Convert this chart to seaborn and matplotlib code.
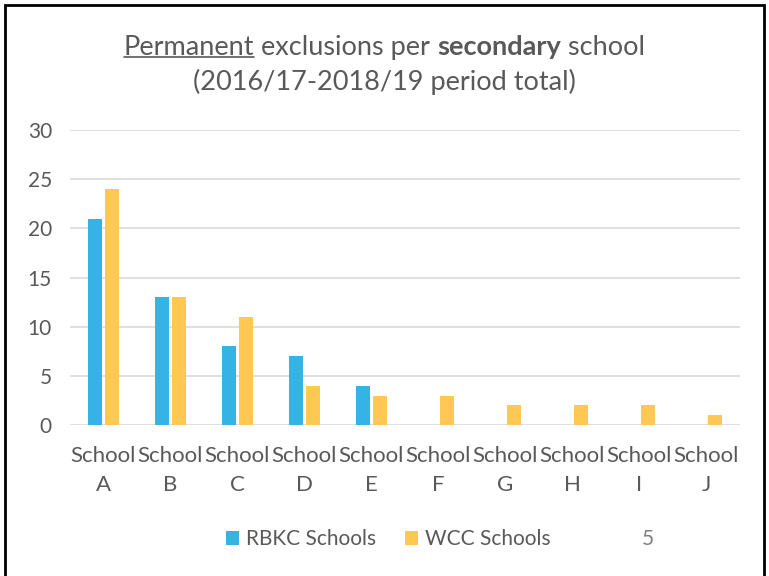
import pandas as pd
import seaborn as sns
import matplotlib.pyplot as plt
from matplotlib.patches import Rectangle

schools = ['A', 'B', 'C', 'D', 'E', 'F', 'G', 'H', 'I', 'J']
rbkc = [21, 13, 8, 7, 4, 0, 0, 0, 0, 0]
wcc = [24, 13, 11, 4, 3, 3, 2, 2, 2, 1]
series = ['RBKC Schools', 'WCC Schools']
colours = ['#35B3E4', '#FFC852']
grey = '#595959'

df = pd.DataFrame({
    'school': ['School\n' + s for s in schools] * 2,
    'value': rbkc + wcc,
    'group': [series[0]] * len(schools) + [series[1]] * len(schools),
})

sns.set_style('white')
plt.rcParams['font.family'] = ['Lato', 'DejaVu Sans']

fig = plt.figure(figsize=(7.69, 5.76), dpi=100)
ax = fig.add_axes([0.091, 0.262, 0.871, 0.512])

sns.barplot(data=df, x='school', y='value', hue='group', palette=colours,
            width=0.52, gap=0.2, saturation=1, linewidth=0, ax=ax, legend=True)

ax.set_ylim(0, 30)
ax.set_yticks(range(0, 31, 5))
ax.set_xlim(-0.5, 9.5)
ax.grid(axis='y', color='#D9D9D9', linewidth=1.2)
ax.set_axisbelow(True)
for s in ax.spines.values():
    s.set_visible(False)
ax.tick_params(axis='y', length=0, labelsize=15, colors=grey, pad=13)
ax.tick_params(axis='x', length=0, labelsize=16, colors=grey, pad=15)
for lbl in ax.get_xticklabels():
    lbl.set_linespacing(1.55)
ax.set_xlabel('')
ax.set_ylabel('')

handles, labels = ax.get_legend_handles_labels()
ax.get_legend().remove()
fig.legend(handles, labels, loc='center', bbox_to_anchor=(0.505, 0.064), ncol=2,
           frameon=False, fontsize=15, handlelength=0.62, handleheight=0.62,
           columnspacing=1.4, handletextpad=0.35, labelcolor=grey)
fig.text(0.842, 0.064, '5', fontsize=15, color='#808080', ha='center', va='center')

# title: underlined first word, bold "secondary"
fs = 19.5
y1 = 0.918
parts = [('Permanent', 'normal'), (' exclusions per ', 'normal'),
         ('secondary', 'bold'), (' school', 'normal')]
texts = [fig.text(0, y1, p, fontsize=fs, color=grey, ha='left', va='center', fontweight=w)
         for p, w in parts]
fig.canvas.draw()
r = fig.canvas.get_renderer()
inv = fig.transFigure.inverted()
widths = [t.get_window_extent(r).transformed(inv).width for t in texts]
x = 0.5 - sum(widths) / 2
for t, w in zip(texts, widths):
    t.set_x(x)
    x += w
fig.canvas.draw()
bb = texts[0].get_window_extent(r).transformed(inv)
fig.add_artist(plt.Line2D([bb.x0, bb.x1], [bb.y0 + 0.004, bb.y0 + 0.004],
                          color=grey, linewidth=1.2, transform=fig.transFigure))
fig.text(0.5, 0.858, '(2016/17-2018/19 period total)', fontsize=fs, color=grey,
         ha='center', va='center')

fig.add_artist(Rectangle((0.007, -0.05), 0.987, 1.042, transform=fig.transFigure,
                         fill=False, edgecolor='black', linewidth=2))

fig.savefig('out.png', dpi=100)
